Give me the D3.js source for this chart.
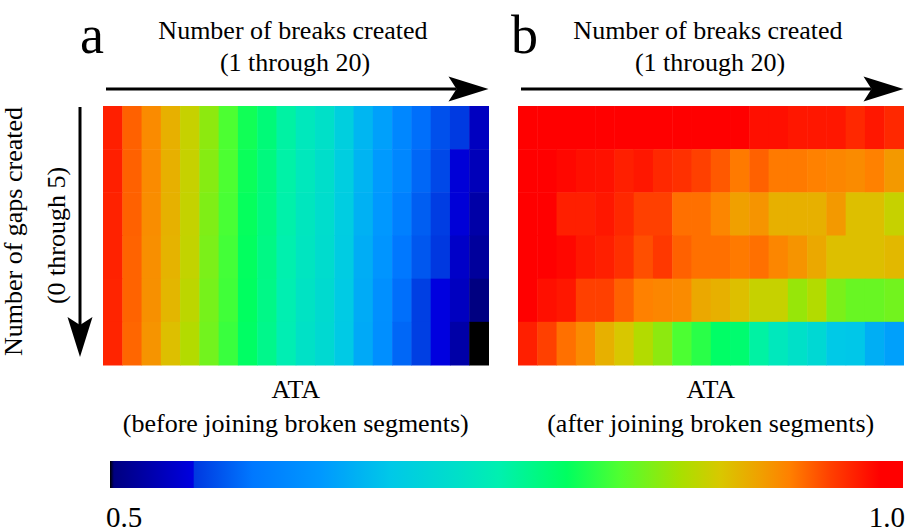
<!DOCTYPE html>
<html>
<head>
<meta charset="utf-8">
<script src="https://cdn.jsdelivr.net/npm/d3@7"></script>
<style>
  body { margin: 0; background: #fff; }
  svg text { fill: #000; }
</style>
</head>
<body>
<div id="chart"></div>
<script>
// categories
const breaks = [1, 2, 3, 4, 5, 6, 7, 8, 9, 10, 11, 12, 13, 14, 15, 16, 17, 18, 19, 20];
const gaps = [0, 1, 2, 3, 4, 5];

// ATA before joining broken segments, one row per number of gaps
const ataBefore = [
  [.970, .941, .922, .900, .875, .848, .820, .795, .775, .752, .733, .720, .690, .660, .640, .610, .585, .567, .554, .536],
  [.970, .941, .922, .900, .875, .845, .820, .792, .772, .750, .732, .717, .688, .658, .634, .610, .580, .562, .548, .532],
  [.969, .941, .921, .899, .874, .842, .818, .790, .770, .748, .730, .715, .686, .655, .632, .600, .575, .556, .548, .523],
  [.969, .940, .920, .898, .873, .840, .816, .789, .768, .746, .728, .713, .684, .652, .628, .590, .571, .553, .540, .517],
  [.968, .940, .919, .896, .870, .838, .815, .788, .767, .744, .725, .710, .682, .650, .622, .585, .557, .552, .536, .503],
  [.968, .939, .917, .890, .865, .836, .812, .786, .765, .742, .722, .708, .680, .648, .620, .580, .557, .552, .523, .500]
];

// ATA after joining broken segments
const ataAfter = [
  [.998, .997, .997, .996, .996, .995, .995, .994, .994, .993, .993, .992, .978, .978, .974, .974, .974, .966, .974, .966],
  [.993, .990, .982, .978, .977, .970, .974, .966, .962, .954, .944, .931, .941, .931, .931, .928, .925, .922, .928, .914],
  [.992, .990, .970, .970, .974, .966, .954, .954, .935, .935, .925, .910, .917, .900, .900, .900, .914, .890, .890, .875],
  [.990, .990, .982, .974, .970, .962, .948, .958, .941, .935, .935, .931, .935, .925, .917, .905, .890, .890, .890, .895],
  [.990, .978, .974, .954, .954, .941, .928, .925, .922, .905, .900, .890, .875, .875, .852, .865, .840, .832, .832, .836],
  [.970, .954, .935, .922, .900, .885, .865, .848, .820, .805, .785, .780, .752, .733, .720, .705, .678, .676, .653, .640]
];

// colour bar limits
const colorTicks = [0.5, 1.0];

// colormap: position along the bar (0..1) and colour
const cmapPos = [0, .005, .105, .106, .18, .265, .353, .44, .49, .576, .643, .719, .769, .82, .857, .908, .971, 1];
const cmapCol = ['#000000', '#000080', '#0000e0', '#0038e0', '#0078ff', '#0098ff', '#00c8e8', '#00e0c8', '#00f0b0',
  '#00ff60', '#50ff30', '#a8e000', '#d8c800', '#f0a000', '#ff8000', '#ff4000', '#ff0000', '#ff0000'];

const width = 906, height = 532;
const svg = d3.select('#chart').append('svg')
  .attr('width', width)
  .attr('height', height)
  .style('font-family', '"Times New Roman", Times, "Liberation Serif", "Nimbus Roman", "Noto Serif", "DejaVu Serif", FreeSerif, serif');

const lo = colorTicks[0], hi = colorTicks[1];
const color = d3.scaleLinear()
  .domain(cmapPos.map(p => lo + (hi - lo) * p))
  .range(cmapCol)
  .interpolate(d3.interpolateRgb)
  .clamp(true);

const y = d3.scaleBand().domain(gaps).range([106, 365]);

function heatmap(x0, x1, values) {
  const x = d3.scaleBand().domain(breaks).range([x0, x1]);
  const cells = [];
  values.forEach((row, i) => row.forEach((v, j) => cells.push({ g: gaps[i], b: breaks[j], v })));
  svg.append('g').selectAll('rect')
    .data(cells)
    .enter()
    .append('rect')
    .attr('x', d => x(d.b))
    .attr('y', d => y(d.g))
    .attr('width', x.bandwidth() + 0.5)
    .attr('height', y.bandwidth() + 0.5)
    .attr('fill', d => color(d.v));
  return x;
}

function arrow(x1, y1, x2, y2) {
  const a = Math.atan2(y2 - y1, x2 - x1);
  const len = 40, half = 12.5, notch = 32;
  const pt = (d, s) => [x2 - d * Math.cos(a) - s * Math.sin(a), y2 - d * Math.sin(a) + s * Math.cos(a)];
  const back = pt(notch, 0);
  svg.append('line')
    .attr('x1', x1).attr('y1', y1)
    .attr('x2', back[0]).attr('y2', back[1])
    .attr('stroke', '#000').attr('stroke-width', 3);
  svg.append('path')
    .attr('d', 'M' + [x2, y2] + 'L' + pt(len, -half) + 'L' + back + 'L' + pt(len, half) + 'Z')
    .attr('fill', '#000');
}

const xa = heatmap(103, 488.5, ataBefore);
const xb = heatmap(518, 903.5, ataAfter);

// panel letters
svg.append('text').attr('x', 80).attr('y', 53).attr('font-size', 54).text('a');
svg.append('text').attr('x', 511).attr('y', 53).attr('font-size', 54).text('b');

// top titles and arrows
[[xa, 293, 'before'], [xb, 708, 'after']].forEach(([x, cx, word]) => {
  const r = x.range();
  svg.append('text').attr('x', cx).attr('y', 39).attr('font-size', 26)
    .attr('text-anchor', 'middle').text('Number of breaks created');
  svg.append('text').attr('x', cx + 2).attr('y', 71).attr('font-size', 26)
    .attr('text-anchor', 'middle').text('(1 through 20)');
  arrow(r[0] + 3, 89, r[1], 89);
  const mid = (r[0] + r[1]) / 2;
  svg.append('text').attr('x', mid).attr('y', 398).attr('font-size', 26)
    .attr('text-anchor', 'middle').text('ATA');
  svg.append('text').attr('x', mid).attr('y', 432).attr('font-size', 26)
    .attr('text-anchor', 'middle').text('(' + word + ' joining broken segments)');
});

// left axis title and arrow
const ymid = (y.range()[0] + y.range()[1]) / 2;
svg.append('text').attr('transform', `translate(22,${ymid - 4}) rotate(-90)`)
  .attr('font-size', 26).attr('text-anchor', 'middle').text('Number of gaps created');
svg.append('text').attr('transform', `translate(65,${ymid})rotate(-90)`)
  .attr('font-size', 26).attr('text-anchor', 'middle').text('(0 through 5)');
arrow(80, y.range()[0] + 1, 80, y.range()[1] - 8);

// colour bar
const cb = d3.scaleLinear().domain([lo, hi]).range([110, 903]);
const grad = svg.append('defs').append('linearGradient')
  .attr('id', 'cbar').attr('x1', '0%').attr('x2', '100%').attr('y1', '0%').attr('y2', '0%');
grad.selectAll('stop')
  .data(cmapPos)
  .enter()
  .append('stop')
  .attr('offset', d => (d * 100) + '%')
  .attr('stop-color', (d, i) => cmapCol[i]);
svg.append('rect')
  .attr('x', cb(lo)).attr('y', 461)
  .attr('width', cb(hi) - cb(lo)).attr('height', 27)
  .attr('fill', 'url(#cbar)');
svg.selectAll('.cbtick')
  .data(colorTicks)
  .enter()
  .append('text')
  .attr('class', 'cbtick')
  .attr('x', (d, i) => cb(d) + (i === 0 ? -4 : 2))
  .attr('y', 527)
  .attr('font-size', 29)
  .attr('text-anchor', (d, i) => i === 0 ? 'start' : 'end')
  .text(d => d3.format('.1f')(d));
</script>
</body>
</html>
